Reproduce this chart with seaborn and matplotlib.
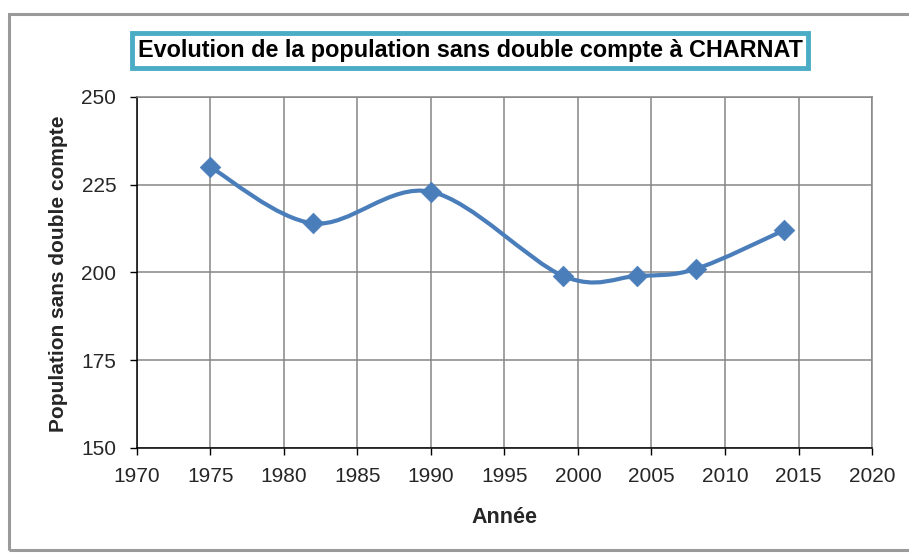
import numpy as np
import pandas as pd
import matplotlib
matplotlib.use("Agg")
import matplotlib.pyplot as plt
from matplotlib.path import Path
from matplotlib.patches import PathPatch, Rectangle
from matplotlib import font_manager
import seaborn as sns

annees = [1975, 1982, 1990, 1999, 2004, 2008, 2014]
population = [230, 214, 223, 199, 199, 201, 212]

titre = "Evolution de la population sans double compte à CHARNAT"
label_x = "Année"
label_y = "Population sans double compte"

df = pd.DataFrame({"annee": annees, "pop": population})

sns.set_theme(style="white")
noms = {f.name for f in font_manager.fontManager.ttflist}
police = "Liberation Sans Narrow" if "Liberation Sans Narrow" in noms else "Liberation Sans"
plt.rcParams["font.family"] = [police, "DejaVu Sans"]

bleu = "#4a7ebb"
gris = "#868686"

fig = plt.figure(figsize=(9.09, 5.53), dpi=100)
ax = fig.add_axes([0.1507, 0.1899, 0.8086, 0.6347])


# courbe lissée façon Excel (Catmull-Rom converti en Bézier)
def courbe_lissee(x, y):
    pts = np.column_stack([x, y]).astype(float)
    verts = [pts[0]]
    codes = [Path.MOVETO]
    n = len(pts)
    for i in range(n - 1):
        p0 = pts[i - 1] if i > 0 else pts[i]
        p1 = pts[i]
        p2 = pts[i + 1]
        p3 = pts[i + 2] if i + 2 < n else pts[i + 1]
        c1 = p1 + (p2 - p0) / 6.0
        c2 = p2 - (p3 - p1) / 6.0
        verts += [c1, c2, p2]
        codes += [Path.CURVE4] * 3
    return Path(verts, codes)


ax.add_patch(PathPatch(courbe_lissee(df["annee"], df["pop"]), fill=False,
                       edgecolor=bleu, lw=3.0, capstyle="round", zorder=3))
sns.scatterplot(data=df, x="annee", y="pop", marker="D", s=110, color=bleu,
                edgecolor=bleu, linewidth=0.5, ax=ax, zorder=4, legend=False)

ax.set_xlim(1970, 2020)
ax.set_ylim(150, 250)
ax.set_xticks(range(1970, 2021, 5))
ax.set_yticks(range(150, 251, 25))
ax.grid(True, color=gris, lw=1.1)
ax.set_axisbelow(True)

for s in ["top", "right"]:
    ax.spines[s].set_color(gris)
    ax.spines[s].set_linewidth(1.1)
for s in ["left", "bottom"]:
    ax.spines[s].set_color("black")
    ax.spines[s].set_linewidth(1.1)

ax.tick_params(axis="both", which="major", direction="out", length=5,
               width=1, color="black", labelsize=15, bottom=True, left=True)
ax.tick_params(axis="x", pad=9)
ax.tick_params(axis="y", pad=10)
ax.set_xlabel(label_x, fontsize=15.5, fontweight="bold")
ax.set_ylabel(label_y, fontsize=15, fontweight="bold")
ax.xaxis.set_label_coords(0.5, -0.168)
ax.yaxis.set_label_coords(-0.094, 0.496)

fig.text(0.517, 0.909, titre, ha="center", va="center", fontsize=16.8,
         fontweight="bold", color="black",
         bbox=dict(boxstyle="square,pad=0.25", facecolor="white",
                   edgecolor="#4bacc6", linewidth=3.5))

# cadre extérieur du graphique
fig.patches.append(Rectangle((0.0099, 0.0054), 1.05, 0.969, transform=fig.transFigure,
                             fill=False, edgecolor="#9a9a9a", lw=2.2))

fig.savefig("out.png", dpi=100, facecolor="white")
